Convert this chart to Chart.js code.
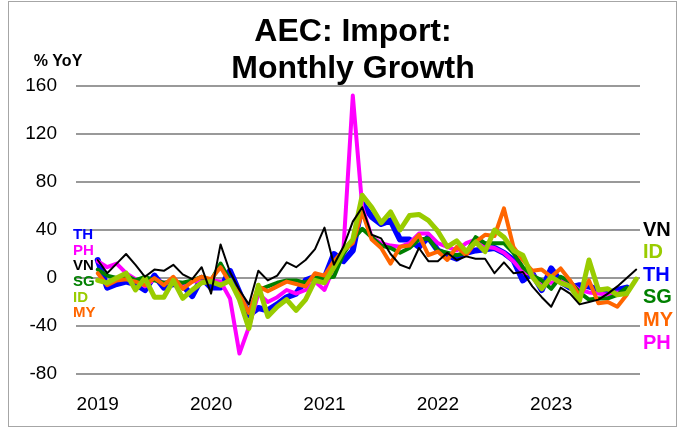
<!DOCTYPE html>
<html>
<head>
<meta charset="utf-8">
<script src="https://cdn.jsdelivr.net/npm/chart.js@4.4.1/dist/chart.umd.min.js"></script>
<style>
  body { margin: 0; background: #fff; }
  canvas { display: block; }
</style>
</head>
<body>
<canvas id="aecChart" width="678" height="428"></canvas>
<script>
// Monthly import growth, % YoY, Jan 2019 onwards
const years = ['2019', '2020', '2021', '2022', '2023'];
const yTicks = [-80, -40, 0, 40, 80, 120, 160];
const titleLines = ['AEC: Import:', 'Monthly Growth'];

const th = [15, -8, -5, -3, -5, -10, 2, -8, -5, -6, -15, 0, -8, -8, 6, -12, -31, -25, -27, -22,
    -16, -13, -2, 1, 0, 20, 14, 23, 62, 51, 45, 48, 32, 32, 26, 34, 23, 19, 16, 21,
    23, 24, 25, 21, 15, -2, 4, -10, 8, -3, -8, -6, -7, -10, -13, -10, -8];
const ph = [14, 9, 12, 4, -1, -7, -1, -4, -4, -7, -3, -2, -2, -3, -17, -63, -41, -13, -20, -16,
    -10, -13, -10, -3, -10, 9, 23, 152, 59, 34, 29, 27, 26, 29, 37, 37, 29, 26, 23, 29,
    32, 26, 25, 21, 14, 5, 3, -4, -4, -2, -4, -10, -12, -13, -14, -12, -13];
const vn = [15, 4, 12, 20, 11, 1, 7, 6, 11, 3, -1, 9, -13, 28, 5, -10, -22, 6, -2, 2,
    13, 9, 15, 24, 42, 11, 26, 47, 59, 36, 33, 20, 11, 8, 25, 14, 14, 21, 15, 18,
    16, 16, 4, 13, 4, 5, -7, -16, -24, -8, -13, -22, -20, -18, -13, -7, 0, 7];
const sg = [7, 2, 0, 2, -2, 1, -2, -4, -3, -4, -2, 1, -2, 12, -2, -16, -29, -10, -7, -4,
    -2, -2, -4, 1, 0, 1, 20, 32, 41, 34, 27, 25, 21, 25, 32, 33, 23, 21, 19, 21,
    34, 29, 29, 29, 21, 9, 2, -2, -9, 1, -3, -12, -18, -17, -17, -14, -8];
const id = [-2, -4, 0, 4, -10, 0, -16, -16, -2, -17, -10, -4, -3, -6, -2, -18, -42, -6, -32, -24,
    -18, -27, -18, -2, -4, 9, 23, 32, 69, 59, 46, 55, 40, 52, 53, 48, 39, 26, 31, 22,
    30, 22, 40, 34, 23, 19, 1, -9, 1, -4, -7, -19, 15, -10, -9, -14, -13, -1];
const my = [4, -6, -2, -1, -3, -6, 0, -6, 1, -9, -3, 1, -1, 9, -4, -13, -29, -7, -11, -7,
    -3, -5, -7, 4, 2, 14, 23, 29, 55, 32, 25, 12, 26, 27, 36, 19, 22, 15, 26, 19,
    30, 36, 35, 58, 26, 15, 6, 7, 1, 8, -2, -15, -2, -21, -20, -24, -14];

const colors = {
    TH: '#0000ff', PH: '#ff00ff', VN: '#000000',
    SG: '#008000', ID: '#99cc00', MY: '#ff6600'
};
const leftOrder = ['TH', 'PH', 'VN', 'SG', 'ID', 'MY'];
const rightOrder = ['VN', 'ID', 'TH', 'SG', 'MY', 'PH'];
const FONT = '"Liberation Sans", Arial, sans-serif';

function series(label, values, width) {
    return {
        label: label,
        data: values.map((v, i) => ({ x: i, y: v })),
        borderColor: colors[label],
        backgroundColor: colors[label],
        borderWidth: width,
        pointRadius: 0,
        tension: 0,
        borderJoinStyle: 'round',
        borderCapStyle: 'round'
    };
}

// title, unit label, series names at both ends, outer frame
const decorations = {
    id: 'decorations',
    afterDraw(chart) {
        const ctx = chart.ctx;
        const area = chart.chartArea;
        ctx.save();
        ctx.fillStyle = '#000';
        ctx.textAlign = 'center';
        ctx.textBaseline = 'alphabetic';
        ctx.font = 'bold 32px ' + FONT;
        ctx.fillText(titleLines[0], 353, 41);
        ctx.fillText(titleLines[1], 353, 78);

        ctx.textBaseline = 'middle';
        ctx.font = 'bold 16px ' + FONT;
        ctx.fillText('% YoY', 58, 62);

        ctx.textAlign = 'left';
        ctx.font = 'bold 15px ' + FONT;
        leftOrder.forEach((name, k) => {
            ctx.fillStyle = colors[name];
            ctx.fillText(name, area.left - 3, area.top + 149 + k * 15.6);
        });
        ctx.font = 'bold 20px ' + FONT;
        rightOrder.forEach((name, k) => {
            ctx.fillStyle = colors[name];
            ctx.fillText(name, area.right + 3, area.top + 144 + k * 22.6);
        });

        ctx.strokeStyle = '#a6a6a6';
        ctx.lineWidth = 1;
        ctx.strokeRect(8.5, 1.5, 668, 425);
        ctx.restore();
    }
};

new Chart(document.getElementById('aecChart'), {
    type: 'line',
    data: {
        datasets: [
            series('VN', vn, 2),
            series('ID', id, 5),
            series('MY', my, 4),
            series('SG', sg, 4),
            series('PH', ph, 4),
            series('TH', th, 6)
        ]
    },
    options: {
        responsive: false,
        animation: false,
        devicePixelRatio: 1,
        layout: { padding: { left: 0, right: 38, top: 86, bottom: 0 } },
        plugins: {
            legend: { display: false },
            tooltip: { enabled: false },
            title: { display: false }
        },
        scales: {
            x: {
                type: 'linear',
                min: -2.3,
                max: 57.4,
                grid: { display: false },
                border: { display: false },
                afterFit: scale => { scale.height = 54; },
                afterBuildTicks: scale => {
                    scale.ticks = years.map((y, k) => ({ value: k * 12 }));
                },
                ticks: {
                    color: '#000',
                    padding: 11,
                    maxRotation: 0,
                    autoSkip: false,
                    font: { family: FONT, size: 19 },
                    callback: value => years[value / 12]
                }
            },
            y: {
                min: -80,
                max: 160,
                afterFit: scale => { scale.width = 76; },
                afterBuildTicks: scale => {
                    scale.ticks = yTicks.map(v => ({ value: v }));
                },
                grid: { color: '#999999', lineWidth: 2, drawTicks: false },
                border: { display: false },
                ticks: {
                    color: '#000',
                    padding: 19,
                    font: { family: FONT, size: 19 }
                }
            }
        }
    },
    plugins: [decorations]
});
</script>
</body>
</html>
